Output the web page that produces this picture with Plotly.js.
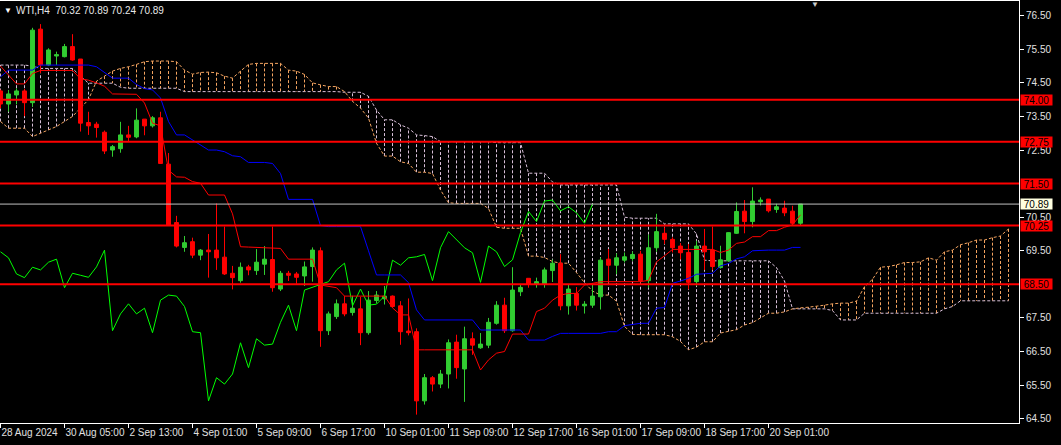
<!DOCTYPE html>
<html><head><meta charset="utf-8">
<script src="https://cdn.plot.ly/plotly-3.0.1.min.js"></script>
<style>html,body{margin:0;padding:0;background:#000;}#chart{width:1061px;height:445px;}</style>
</head><body><div id="chart"></div>
<script>
// ---- data (WTI, H4) ----
const header = "WTI,H4  70.32 70.89 70.24 70.89";
const tickBars = [0, 8, 16, 24, 32, 40, 48, 56, 64, 72, 80, 88, 96];
const tickLabels = ["28 Aug 2024","30 Aug 05:00","2 Sep 13:00","4 Sep 01:00","5 Sep 09:00","6 Sep 17:00","10 Sep 01:00","11 Sep 09:00","12 Sep 17:00","16 Sep 01:00","17 Sep 09:00","18 Sep 17:00","20 Sep 01:00"];
const priceTicks = [64.5, 65.5, 66.5, 67.5, 69.5, 70.5, 72.5, 73.5, 74.5, 75.5, 76.5];

const openP = [74.26,73.87,74.14,74.26,73.91,76.10,75.03,75.30,75.28,75.58,
75.21,73.32,73.27,73.03,72.50,72.54,72.95,72.89,73.42,73.22,
73.46,72.08,70.34,69.60,69.77,69.37,69.52,69.52,69.31,68.83,
68.61,69.02,68.91,69.10,69.24,68.36,68.83,68.81,68.75,69.03,
69.50,67.12,67.54,67.92,67.66,67.77,67.06,68.02,68.07,68.15,
67.86,67.11,67.09,65.03,65.72,65.53,65.83,66.78,65.98,66.88,
66.61,66.69,67.34,67.88,67.12,68.28,68.68,68.51,68.51,68.91,
69.13,67.86,68.23,67.86,67.88,68.13,69.25,69.07,69.22,69.27,
69.40,68.61,69.59,70.02,69.84,69.64,69.45,68.58,69.64,69.52,
69.00,69.20,70.02,70.68,70.37,70.96,71.04,70.73,70.77,70.68,
70.32];
const highP = [74.30,74.29,74.34,74.32,76.14,76.25,75.53,75.43,75.66,75.95,
75.21,73.64,73.34,73.08,72.65,73.34,73.22,73.74,73.42,73.51,
73.64,72.41,70.54,69.94,69.89,69.55,70.00,70.91,70.22,69.05,
69.15,69.08,69.55,69.64,70.22,68.90,68.90,68.87,69.18,69.60,
69.60,67.69,68.05,68.15,68.16,68.13,68.30,68.30,68.45,68.17,
68.00,68.08,67.19,65.83,65.77,65.95,66.86,67.00,67.24,67.07,
67.05,67.50,68.00,68.10,69.01,68.48,68.68,68.70,69.00,69.24,
69.40,68.50,68.42,68.00,68.50,69.30,69.55,69.42,69.45,69.48,
69.50,69.98,70.60,70.20,69.90,69.73,69.70,69.80,70.15,70.22,
69.65,70.05,70.94,71.01,71.39,71.09,71.04,70.90,70.99,70.84,
70.89];
const lowP = [73.75,73.64,73.86,73.51,73.79,74.79,75.00,75.03,75.26,75.16,
73.05,72.95,72.87,72.38,72.30,72.42,72.75,72.85,72.94,73.17,
72.10,70.27,69.60,69.47,69.28,69.22,68.70,68.93,68.78,68.35,
68.55,68.77,68.78,68.78,68.28,68.30,68.60,68.52,68.45,68.58,
66.64,66.99,67.47,67.55,67.57,66.69,67.00,67.93,67.90,67.80,
66.70,66.98,64.62,64.92,65.31,65.41,65.40,65.69,65.00,66.40,
66.58,66.60,67.30,67.05,67.09,68.15,68.40,68.40,68.40,68.57,
67.73,67.60,67.72,67.63,67.80,67.75,68.55,68.80,69.15,69.20,
68.55,68.40,69.47,69.70,69.45,69.24,68.35,68.45,68.93,68.93,
68.97,69.18,70.00,70.02,70.20,70.85,70.64,70.63,70.53,70.24,
70.24];
const closeP = [73.87,74.17,74.26,73.91,76.07,75.03,75.48,75.34,75.58,75.18,
73.30,73.22,73.17,72.47,72.60,72.95,72.88,73.39,73.22,73.46,
72.10,70.27,69.64,69.74,69.37,69.52,69.47,69.29,68.81,68.70,
69.01,68.93,69.16,69.25,68.40,68.83,68.77,68.71,69.02,69.52,
67.12,67.62,67.92,67.62,67.79,67.06,68.03,68.18,68.15,67.84,
67.09,67.06,65.03,65.72,65.53,65.83,66.76,66.02,66.88,66.69,
66.72,67.37,67.88,67.12,68.33,68.41,68.51,68.58,68.93,69.13,
67.86,68.36,67.88,67.91,68.15,69.22,69.07,69.29,69.32,69.39,
68.61,69.59,70.07,69.84,69.59,69.44,68.56,69.64,69.47,69.03,
69.23,70.04,70.67,70.37,70.98,71.01,70.69,70.81,70.63,70.32,
70.89];

const tenkan = [75.00,74.72,74.47,74.47,74.78,74.87,74.87,74.87,74.87,74.87,
74.62,74.58,74.50,74.40,74.17,74.16,74.16,74.16,73.90,73.30,
73.22,71.90,71.70,71.69,71.56,71.51,71.16,71.16,71.16,70.60,
69.62,69.61,69.60,69.59,69.58,69.57,69.25,69.25,69.25,69.25,
68.48,68.45,68.40,68.15,68.15,68.15,68.15,68.15,68.15,67.80,
67.59,67.59,66.55,66.55,66.55,66.55,66.55,66.55,66.55,66.55,
65.95,66.25,66.45,66.50,67.02,67.02,67.02,67.69,67.79,68.03,
68.18,68.23,68.23,68.48,68.53,68.58,68.58,68.58,68.58,68.58,
68.58,68.62,69.17,69.35,69.54,69.54,69.54,69.54,69.54,69.54,
69.45,69.52,69.72,69.76,69.92,69.92,70.10,70.10,70.20,70.27,
70.57];
const kijun = [74.68,74.88,74.88,74.88,74.88,75.03,75.03,75.03,75.03,75.03,
75.05,75.03,74.98,74.80,74.64,74.64,74.64,74.45,74.33,74.29,
74.05,73.35,72.95,72.95,72.80,72.65,72.50,72.50,72.45,72.33,
72.30,72.13,72.13,72.13,72.10,71.80,71.03,71.03,71.03,71.03,
70.25,70.22,70.22,70.22,70.22,70.22,69.50,68.78,68.78,68.78,
68.78,68.55,67.74,67.44,67.44,67.44,67.44,67.44,67.44,67.44,
67.14,67.14,67.14,67.14,67.14,67.14,66.84,66.84,66.84,66.95,
67.04,67.04,67.04,67.04,67.04,67.04,67.09,67.09,67.27,67.30,
67.34,67.34,67.79,67.81,68.53,68.60,68.68,68.80,68.82,68.83,
69.05,69.12,69.26,69.32,69.50,69.52,69.52,69.52,69.52,69.60,
69.60];
const spanA = [73.35,73.15,73.15,73.15,72.90,73.00,73.10,73.20,73.35,73.50,
73.75,74.00,74.55,74.70,74.85,74.93,74.98,75.05,75.13,75.15,
75.15,75.15,75.13,74.88,74.76,74.81,74.82,74.80,74.70,74.64,
74.85,75.05,75.08,75.08,75.08,75.08,74.88,74.85,74.75,74.50,
74.44,74.39,74.39,74.24,73.95,73.75,73.45,72.70,72.32,72.32,
72.15,72.10,71.84,71.84,71.80,71.31,70.93,70.91,70.91,70.91,
70.91,70.76,70.20,70.17,70.17,70.17,69.34,69.34,69.30,69.18,
69.13,69.13,68.85,68.55,68.30,68.18,68.18,68.00,67.25,67.01,
67.00,67.00,67.00,67.00,66.94,66.80,66.55,66.63,66.79,66.79,
67.05,67.10,67.15,67.29,67.36,67.50,67.64,67.64,67.68,67.77,
67.80,67.82,67.85,67.88,67.92,67.94,67.94,68.00,68.43,68.65,
69.01,69.03,69.08,69.15,69.15,69.17,69.29,69.22,69.47,69.52,
69.68,69.74,69.82,69.82,69.89,69.94,70.15];
const spanB = [75.03,75.03,75.03,75.03,75.00,74.93,74.93,74.93,74.93,74.93,
74.70,74.49,74.49,74.49,74.49,74.37,74.34,74.34,74.34,74.34,
74.34,74.34,74.34,74.24,74.24,74.24,74.24,74.24,74.24,74.24,
74.24,74.24,74.24,74.24,74.24,74.24,74.24,74.24,74.24,74.24,
74.24,74.24,74.24,74.22,74.22,74.22,74.10,73.69,73.40,73.40,
73.25,73.15,72.95,72.93,72.90,72.75,72.75,72.75,72.75,72.75,
72.75,72.75,72.72,72.72,72.72,72.72,71.81,71.81,71.81,71.55,
71.46,71.46,71.46,71.46,71.46,71.46,71.46,71.46,70.50,70.47,
70.47,70.47,70.47,70.30,70.30,70.30,70.30,70.00,69.22,69.20,
69.20,69.20,69.20,69.20,69.20,69.20,69.20,69.00,68.60,67.77,
67.77,67.77,67.77,67.77,67.72,67.44,67.44,67.44,67.64,67.64,
67.64,67.64,67.64,67.64,67.64,67.64,67.64,67.64,67.77,67.84,
68.01,68.01,68.01,68.01,68.01,68.01,68.01];
const chikouShift = 26;
const levels = [74.00, 72.75, 71.50, 70.25, 68.50];
const levelLabels = ["74.00", "72.75", "71.50", "70.25", "68.50"];
const bidPrice = 70.89;
const bidLabel = "70.89";

// ---- colours ----
const C_UP = '#32CD32', C_DN = '#FF0000', C_TEN = '#FF0000', C_KIJ = '#0000FF', C_CHI = '#00FF00';
const C_SA = '#F4A460', C_SB = '#D8BFD8';

const barIdx = openP.map((_, i) => i);
const cloudIdx = spanA.map((_, i) => i);

// cloud hatching built from the span arrays
let hatchA = '', hatchB = '', lineA = '', lineB = '';
cloudIdx.forEach(i => {
  const seg = 'M' + i + ',' + spanA[i] + 'L' + i + ',' + spanB[i];
  if (spanA[i] >= spanB[i]) hatchA += seg; else hatchB += seg;
  lineA += (i === 0 ? 'M' : 'L') + i + ',' + spanA[i];
  lineB += (i === 0 ? 'M' : 'L') + i + ',' + spanB[i];
});

const shapes = [
  {type:'path', xref:'x', yref:'y', path:hatchB, layer:'below', line:{color:C_SB, width:1, dash:'3px,2px'}},
  {type:'path', xref:'x', yref:'y', path:hatchA, layer:'below', line:{color:C_SA, width:1, dash:'3px,2px'}},
  {type:'path', xref:'x', yref:'y', path:lineB, layer:'below', line:{color:C_SB, width:1, dash:'3px,2px'}},
  {type:'path', xref:'x', yref:'y', path:lineA, layer:'below', line:{color:C_SA, width:1, dash:'3px,2px'}}
];
levels.forEach(v => shapes.push({type:'line', xref:'paper', x0:0, x1:1, yref:'y', y0:v, y1:v, layer:'above', line:{color:'#FF0000', width:2}}));
shapes.push({type:'line', xref:'paper', x0:0, x1:1, yref:'y', y0:bidPrice, y1:bidPrice, layer:'above', line:{color:'#C0C0C0', width:1}});

const annotations = [
  {xref:'paper', yref:'paper', x:0, y:1, xanchor:'left', yanchor:'top', xshift:2, yshift:-3, text:'▼', showarrow:false, font:{size:8, color:'#FFFFFF'}},
  {xref:'paper', yref:'paper', x:0, y:1, xanchor:'left', yanchor:'top', xshift:14, yshift:-2, text:header, showarrow:false, font:{size:10, color:'#E8E8E8'}},
  {xref:'paper', yref:'paper', x:815/1019, y:1, xanchor:'center', yanchor:'top', yshift:3, text:'▼', showarrow:false, font:{size:8, color:'#C8C8C8'}}
];
levels.forEach((v, k) => annotations.push({xref:'paper', x:1, xanchor:'left', xshift:1, yref:'y', y:v, yanchor:'middle', text:levelLabels[k], showarrow:false, bgcolor:'#FF0000', font:{size:10, color:'#000000'}, width:31, height:10, borderpad:0}));
annotations.push({xref:'paper', x:1, xanchor:'left', xshift:1, yref:'y', y:bidPrice, yanchor:'middle', text:bidLabel, showarrow:false, bgcolor:'#FFFFE0', font:{size:10, color:'#000000'}, width:31, height:10, borderpad:0});

const traces = [
  {type:'candlestick', x:barIdx, open:openP, high:highP, low:lowP, close:closeP,
   increasing:{line:{color:C_UP, width:1}, fillcolor:C_UP},
   decreasing:{line:{color:C_DN, width:1}, fillcolor:C_DN},
   whiskerwidth:0, hoverinfo:'skip'},
  {type:'scatter', mode:'lines', x:closeP.slice(chikouShift).map((_, k) => k), y:closeP.slice(chikouShift), line:{color:C_CHI, width:1}, hoverinfo:'skip'},
  {type:'scatter', mode:'lines', x:barIdx, y:kijun, line:{color:C_KIJ, width:1}, hoverinfo:'skip'},
  {type:'scatter', mode:'lines', x:barIdx, y:tenkan, line:{color:C_TEN, width:1}, hoverinfo:'skip'}
];

const layout = {
  width:1061, height:445,
  margin:{l:0, r:42, t:1, b:22, pad:0},
  paper_bgcolor:'#000000', plot_bgcolor:'#000000',
  showlegend:false,
  font:{family:'"Liberation Sans", Arial, sans-serif', size:10, color:'#E0E0E0'},
  xaxis:{range:[-0.0625, 127.3125], rangeslider:{visible:false}, showgrid:false, zeroline:false,
         showline:true, mirror:true, linecolor:'#FFFFFF', linewidth:1,
         ticks:'outside', ticklen:4, tickcolor:'#FFFFFF', tickmode:'array', tickvals:tickBars, ticktext:tickLabels,
         tickangle:0, ticklabelposition:'outside right', ticklabeloverflow:'allow',
         tickfont:{size:10, color:'#E0E0E0'}, fixedrange:true},
  yaxis:{side:'right', range:[64.371, 76.938], showgrid:false, zeroline:false,
         showline:true, linecolor:'#FFFFFF', linewidth:1,
         ticks:'outside', ticklen:4, tickcolor:'#FFFFFF', tickmode:'array', tickvals:priceTicks,
         ticktext:priceTicks.map(v => v.toFixed(2)),
         tickfont:{size:10, color:'#E0E0E0'}, fixedrange:true},
  shapes:shapes, annotations:annotations
};
Plotly.newPlot('chart', traces, layout, {displayModeBar:false, staticPlot:true});
</script>
</body></html>
